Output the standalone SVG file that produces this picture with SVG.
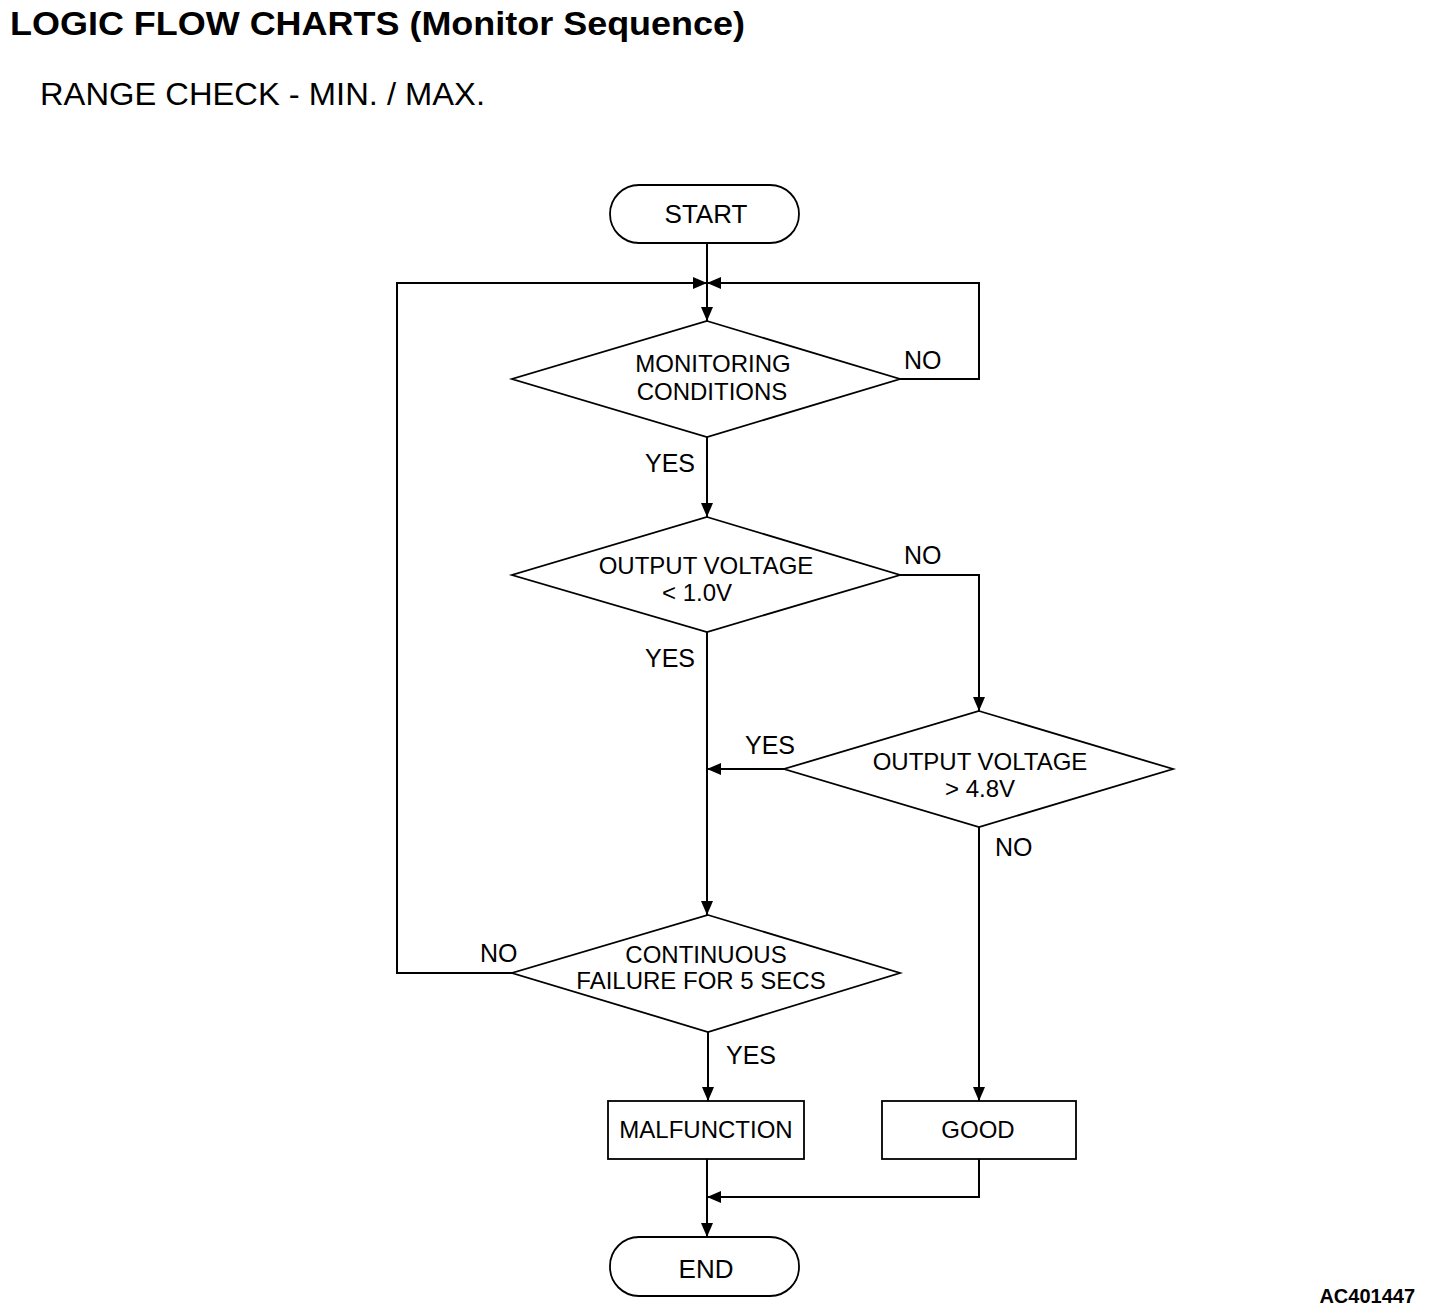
<svg xmlns="http://www.w3.org/2000/svg" width="1440" height="1316" viewBox="0 0 1440 1316">
<style>
.shape{fill:#fff;stroke:#000;stroke-width:1.8}
.conn{fill:none;stroke:#000;stroke-width:2}
.t{font-family:"Liberation Sans",Arial,sans-serif;fill:#000;text-anchor:middle}
.lbl{font-family:"Liberation Sans",Arial,sans-serif;fill:#000;font-size:25px}
</style>
<defs>
<marker id="ah" viewBox="0 0 14 12" refX="14" refY="6" markerWidth="14" markerHeight="12" markerUnits="userSpaceOnUse" orient="auto">
<path d="M0,0 L14,6 L0,12 Z" fill="#000"/>
</marker>
</defs>
<rect width="1440" height="1316" fill="#fff"/>
<text x="10" y="35" font-family="Liberation Sans,Arial,sans-serif" font-weight="bold" font-size="34" textLength="735" lengthAdjust="spacingAndGlyphs">LOGIC FLOW CHARTS (Monitor Sequence)</text>
<text x="40" y="105" font-family="Liberation Sans,Arial,sans-serif" font-size="32" textLength="445" lengthAdjust="spacingAndGlyphs">RANGE CHECK - MIN. / MAX.</text>

<g id="connectors">
<path class="conn" d="M707,243 V321" marker-end="url(#ah)"/>
<path class="conn" d="M512,973 H397 V283 H707" marker-end="url(#ah)"/>
<path class="conn" d="M900,379 H979 V283 H707" marker-end="url(#ah)"/>
<path class="conn" d="M707,437 V517" marker-end="url(#ah)"/>
<path class="conn" d="M900,575 H979 V711" marker-end="url(#ah)"/>
<path class="conn" d="M707,632 V915" marker-end="url(#ah)"/>
<path class="conn" d="M784,769 H707" marker-end="url(#ah)"/>
<path class="conn" d="M979,827 V1101" marker-end="url(#ah)"/>
<path class="conn" d="M708,1032 V1101" marker-end="url(#ah)"/>
<path class="conn" d="M707,1159 V1237" marker-end="url(#ah)"/>
<path class="conn" d="M979,1159 V1197 H707" marker-end="url(#ah)"/>
</g>

<g id="start">
<rect class="shape" x="610" y="185" width="189" height="58" rx="29" ry="29"/>
<text class="t" x="706" y="223" font-size="26">START</text>
</g>
<g id="monitoring">
<polygon class="shape" points="707,321 900,379 707,437 512,379"/>
<text class="t" x="713" y="372" font-size="24">MONITORING</text>
<text class="t" x="712" y="400" font-size="24">CONDITIONS</text>
</g>
<g id="lt10">
<polygon class="shape" points="707,517 900,575 707,632 512,575"/>
<text class="t" x="706" y="574" font-size="24">OUTPUT VOLTAGE</text>
<text class="t" x="697" y="601" font-size="24">&lt; 1.0V</text>
</g>
<g id="gt48">
<polygon class="shape" points="979,711 1173,769 979,827 784,769"/>
<text class="t" x="980" y="770" font-size="24">OUTPUT VOLTAGE</text>
<text class="t" x="980" y="797" font-size="24">&gt; 4.8V</text>
</g>
<g id="continuous">
<polygon class="shape" points="708,915 900,973 708,1032 512,973"/>
<text class="t" x="706" y="963" font-size="24">CONTINUOUS</text>
<text class="t" x="701" y="989" font-size="24">FAILURE FOR 5 SECS</text>
</g>
<g id="malfunction">
<rect class="shape" x="608" y="1101" width="196" height="58"/>
<text class="t" x="706" y="1138" font-size="24">MALFUNCTION</text>
</g>
<g id="good">
<rect class="shape" x="882" y="1101" width="194" height="58"/>
<text class="t" x="978" y="1138" font-size="24">GOOD</text>
</g>
<g id="end">
<rect class="shape" x="610" y="1237" width="189" height="59" rx="29" ry="29"/>
<text class="t" x="706" y="1278" font-size="26">END</text>
</g>

<g id="labels">
<text class="lbl" x="904" y="369">NO</text>
<text class="lbl" x="645" y="472">YES</text>
<text class="lbl" x="904" y="564">NO</text>
<text class="lbl" x="645" y="667">YES</text>
<text class="lbl" x="745" y="754">YES</text>
<text class="lbl" x="995" y="856">NO</text>
<text class="lbl" x="480" y="962">NO</text>
<text class="lbl" x="726" y="1064">YES</text>
</g>
<text x="1415" y="1303" font-family="Liberation Sans,Arial,sans-serif" font-weight="bold" font-size="20" text-anchor="end">AC401447</text>
</svg>
